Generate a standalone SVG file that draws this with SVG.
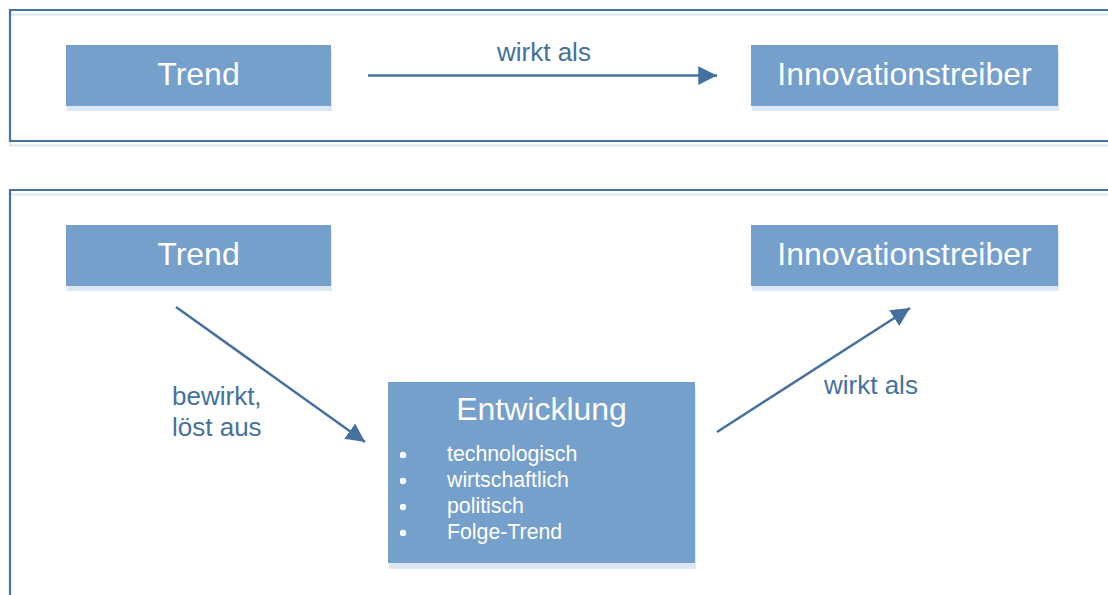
<svg xmlns="http://www.w3.org/2000/svg" width="1108" height="595" viewBox="0 0 1108 595">
  <style>
    .frame { fill: none; stroke: #46739f; stroke-width: 2.2; }
    .frame-shadow { fill: none; stroke: #dbe7f4; stroke-width: 2; }
    .box { fill: #75a0cc; }
    .box-shadow { fill: #dbe7f5; }
    .box-text { font-family: "Liberation Sans", Arial, sans-serif; font-size: 32px; fill: #ffffff; text-anchor: middle; }
    .list-text { font-family: "Liberation Sans", Arial, sans-serif; font-size: 21.3px; fill: #ffffff; }
    .label { font-family: "Liberation Sans", Arial, sans-serif; font-size: 26px; fill: #44719e; }
    .conn { stroke: #44719e; stroke-width: 2.5; fill: none; }
  </style>
  <defs>
    <marker id="arrow" viewBox="0 0 10 10" refX="10" refY="5" markerWidth="7.5" markerHeight="7.5" markerUnits="strokeWidth" orient="auto">
      <path d="M0,0 L10,5 L0,10 Z" fill="#44719e"/>
    </marker>
  </defs>

  <rect width="1108" height="595" fill="#ffffff"/>

  <!-- panel frames, open to the right -->
  <g id="frame-top">
    <path class="frame-shadow" d="M1108,14.5 H10 V145.5 H1108"/>
    <path class="frame" d="M1108,10 H10 V141 H1108"/>
  </g>
  <g id="frame-bottom">
    <path class="frame-shadow" d="M1108,194.5 H10 V600"/>
    <path class="frame" d="M1108,190 H10 V600"/>
  </g>

  <!-- upper panel -->
  <g id="trend-1">
    <rect class="box-shadow" x="67" y="50" width="265" height="61"/>
    <rect class="box" x="66" y="45" width="265" height="61"/>
    <text class="box-text" x="198.5" y="85">Trend</text>
  </g>
  <g id="innovationstreiber-1">
    <rect class="box-shadow" x="752" y="50" width="307" height="61"/>
    <rect class="box" x="751" y="45" width="307" height="61"/>
    <text class="box-text" x="904.5" y="85">Innovationstreiber</text>
  </g>

  <!-- lower panel -->
  <g id="trend-2">
    <rect class="box-shadow" x="67" y="230" width="265" height="61"/>
    <rect class="box" x="66" y="225" width="265" height="61"/>
    <text class="box-text" x="198.5" y="265">Trend</text>
  </g>
  <g id="innovationstreiber-2">
    <rect class="box-shadow" x="752" y="230" width="307" height="61"/>
    <rect class="box" x="751" y="225" width="307" height="61"/>
    <text class="box-text" x="904.5" y="265">Innovationstreiber</text>
  </g>
  <g id="entwicklung">
    <rect class="box-shadow" x="389" y="388" width="307" height="181"/>
    <rect class="box" x="388" y="382" width="307" height="181"/>
    <text class="box-text" x="541.5" y="420">Entwicklung</text>
    <g fill="#ffffff">
      <circle cx="403" cy="455" r="3.2"/>
      <circle cx="403" cy="481" r="3.2"/>
      <circle cx="403" cy="507" r="3.2"/>
      <circle cx="403" cy="533" r="3.2"/>
    </g>
    <text class="list-text" x="447" y="461">technologisch</text>
    <text class="list-text" x="447" y="487">wirtschaftlich</text>
    <text class="list-text" x="447" y="513">politisch</text>
    <text class="list-text" x="447" y="539">Folge-Trend</text>
  </g>

  <!-- connectors and their labels -->
  <g id="connectors">
    <line class="conn" x1="368" y1="75.5" x2="717" y2="75.5" marker-end="url(#arrow)"/>
    <line class="conn" x1="176" y1="307" x2="365" y2="442" marker-end="url(#arrow)"/>
    <line class="conn" x1="717" y1="432" x2="910" y2="308" marker-end="url(#arrow)"/>
    <text class="label" x="497" y="61">wirkt als</text>
    <text class="label" x="172" y="405">bewirkt,</text>
    <text class="label" x="172" y="436">löst aus</text>
    <text class="label" x="824" y="394">wirkt als</text>
  </g>
</svg>
